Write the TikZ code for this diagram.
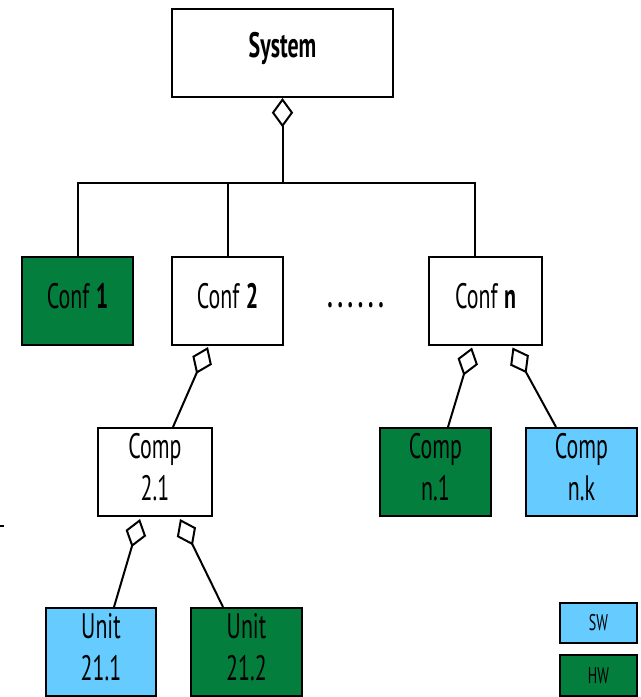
\documentclass[tikz,border=0pt]{standalone}
\usepackage{fontspec}
\setmainfont{PT Sans}[FakeStretch=0.62]
\usetikzlibrary{arrows.meta,calc}
\definecolor{hwgreen}{HTML}{037E3D}
\definecolor{swblue}{HTML}{66CCFF}
\newcommand{\dotgap}{\hspace{3.6pt}}
\begin{document}
\begin{tikzpicture}[x=0.75pt,y=-0.75pt,
  box/.style={draw=black, line width=1.5pt, minimum height=66pt, minimum width=83.25pt, inner sep=0pt, align=center, text depth=7pt, font=\fontsize{26.5}{31.5}\selectfont},
  hw/.style={box, fill=hwgreen},
  sw/.style={box, fill=swblue},
  link/.style={line width=1.5pt},
  agg/.style={link, -{Diamond[open, length=22pt, width=16pt]}},
  legend/.style={draw=black, line width=1.5pt, minimum width=57.75pt, minimum height=30pt, inner sep=0pt, font=\fontsize{17}{20}\selectfont}]
\useasboundingbox (0,0) rectangle (641,697);
\node[box, minimum width=165.75pt, text depth=12pt] (system) at (282.5,53) {\textbf{System}};
\node[hw] (conf1) at (77.5,301) {Conf \textbf{1}};
\node[box] (conf2) at (227.5,301) {Conf \textbf{2}};
\node[box, minimum width=84.75pt] (confn) at (485.5,300.5) {Conf \textbf{n}};
\node[anchor=base, inner sep=0pt, font=\fontsize{26.5}{30}\selectfont] (dots) at (355.5,307) {\textbf{.\dotgap.\dotgap.\dotgap.\dotgap.\dotgap.}};
\node[box, minimum width=85.5pt] (comp21) at (155,472) {Comp\\2.1};
\node[hw] (compn1) at (435.5,472) {Comp\\n.1};
\node[sw] (compnk) at (581.5,472) {Comp\\n.k};
\node[sw, minimum width=82.5pt] (unit211) at (101,652) {Unit\\21.1};
\node[hw] (unit212) at (246.5,652) {Unit\\21.2};
\node[legend, fill=swblue] (swl) at (598.5,623) {SW};
\node[legend, fill=hwgreen, minimum height=30.75pt] (hwl) at (598.5,675.5) {HW};
\coordinate (bus) at (282,183);
\coordinate (cn) at ($(confn.north)+(-10.5,0)$);
\draw[agg] (system.south |- bus) -- (system.south);
\draw[link] (conf1.north) -- (conf1.north |- bus) -- (cn |- bus) -- (cn);
\draw[link] (conf2.north) -- (conf2.north |- bus);
\draw[agg] ($(comp21.north)+(18,0)$) -- ($(conf2.south)+(-19.5,1)$);
\draw[agg] ($(compn1.north)+(12.5,0)$) -- ($(confn.south)+(-13.5,2)$);
\draw[agg] ($(compnk.north)+(-25.5,0)$) -- ($(confn.south)+(27,2)$);
\draw[agg] ($(unit211.north)+(13,0)$) -- ($(comp21.south)+(-15,2)$);
\draw[agg] ($(unit212.north)+(-23.5,0)$) -- ($(comp21.south)+(25,2)$);
\coordinate (mark) at (0,526);
\draw[link] (mark) -- ++(4,0);
\end{tikzpicture}
\end{document}
